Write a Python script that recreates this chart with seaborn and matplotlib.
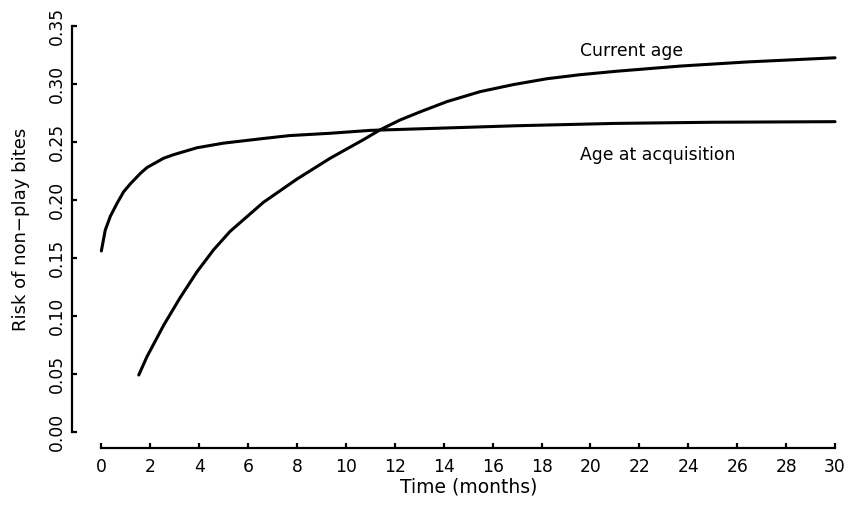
import numpy as np
import pandas as pd
import matplotlib
matplotlib.use("Agg")
import matplotlib.pyplot as plt
import seaborn as sns

# ---- data ----
acq_time = [0, 0.16, 0.37, 0.64, 0.91, 1.19, 1.6, 1.87, 2.55, 2.95, 3.91, 5.0, 6.63, 7.7,
            9.36, 11.0, 14.0, 17.0, 21.0, 25.0, 30.0]
acq_risk = [0.156, 0.174, 0.186, 0.197, 0.207, 0.214, 0.223, 0.228, 0.236, 0.239, 0.245,
            0.249, 0.253, 0.2555, 0.2575, 0.260, 0.262, 0.264, 0.266, 0.267, 0.2675]

cur_time = [1.53, 1.87, 2.55, 3.23, 3.91, 4.59, 5.27, 6.63, 8.0, 9.36, 10.72, 11.4, 12.22,
            13.04, 14.13, 15.49, 16.85, 18.21, 19.57, 21.07, 23.7, 26.4, 30.0]
cur_risk = [0.049, 0.065, 0.092, 0.116, 0.138, 0.157, 0.173, 0.198, 0.218, 0.236, 0.252,
            0.2605, 0.269, 0.276, 0.2848, 0.2934, 0.2995, 0.3045, 0.308, 0.311, 0.3155, 0.319, 0.3226]

series_names = ["Age at acquisition", "Current age"]
x_ticks = list(range(0, 31, 2))
y_ticks = [0.00, 0.05, 0.10, 0.15, 0.20, 0.25, 0.30, 0.35]
x_title = "Time (months)"
y_title = "Risk of non\u2212play bites"

df = pd.concat([
    pd.DataFrame({"time": acq_time, "risk": acq_risk, "series": series_names[0]}),
    pd.DataFrame({"time": cur_time, "risk": cur_risk, "series": series_names[1]}),
], ignore_index=True)

sns.set_style("ticks")
plt.rcParams["font.family"] = ["DejaVu Sans"]
plt.rcParams["text.color"] = "black"
plt.rcParams["axes.labelcolor"] = "black"
plt.rcParams["xtick.color"] = "black"
plt.rcParams["ytick.color"] = "black"

fig = plt.figure(figsize=(8.48, 5.15), dpi=100)
ax = fig.add_axes([0.0849, 0.130, 0.9151, 0.851])

sns.lineplot(data=df, x="time", y="risk", units="series", estimator=None,
             color="black", lw=2.2, ax=ax, legend=False, sort=False)

ax.set_xlim(-1.2, 30.53)
ax.set_ylim(-0.014, 0.364)

for s in ["top", "right"]:
    ax.spines[s].set_visible(False)
ax.spines["left"].set_bounds(0, 0.35)
ax.spines["bottom"].set_bounds(0, 30)
for s in ["left", "bottom"]:
    ax.spines[s].set_linewidth(1.6)
    ax.spines[s].set_color("black")

ax.set_xticks(x_ticks)
ax.set_xticklabels([str(t) for t in x_ticks])
ax.set_yticks(y_ticks)
ax.set_yticklabels([f"{v:.2f}" for v in y_ticks], rotation=90, va="center")

ax.tick_params(axis="both", direction="in", length=3.6, width=1.6, colors="black",
               labelcolor="black", labelsize=12.3)
ax.tick_params(axis="x", pad=7.2)
ax.tick_params(axis="y", pad=4.5)

ax.set_xlabel(x_title, fontsize=13.5, color="black")
ax.set_ylabel(y_title, fontsize=13.0, color="black")
ax.xaxis.set_label_coords(0.5106, -0.089)
ax.xaxis.label.set_va("center")
ax.yaxis.set_label_coords(-0.0657, 0.5)
ax.yaxis.label.set_va("center")

ax.text(19.57, 0.3244, series_names[1], fontsize=12.4, va="baseline", ha="left", color="black")
ax.text(19.57, 0.2345, series_names[0], fontsize=12.4, va="baseline", ha="left", color="black")

fig.savefig("out.png", dpi=100)
